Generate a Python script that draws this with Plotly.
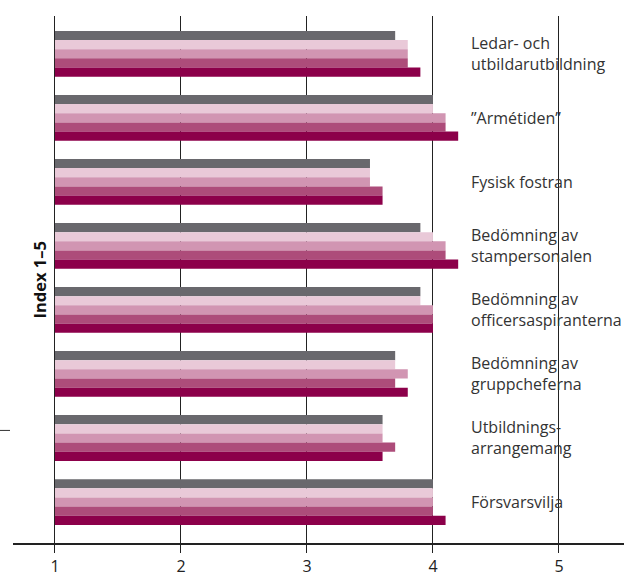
import plotly.graph_objects as go

# Categories, top to bottom
categories = [
    "Ledar- och<br>utbildarutbildning",
    "”Armétiden”",
    "Fysisk fostran",
    "Bedömning av<br>stampersonalen",
    "Bedömning av<br>officersaspiranterna",
    "Bedömning av<br>gruppcheferna",
    "Utbildnings-<br>arrangemang",
    "Försvarsvilja",
]

# Five series per category (index 1–5)
series_1 = [3.7, 4.0, 3.5, 3.9, 3.9, 3.7, 3.6, 4.0]
series_2 = [3.8, 4.0, 3.5, 4.0, 3.9, 3.7, 3.6, 4.0]
series_3 = [3.8, 4.1, 3.5, 4.1, 4.0, 3.8, 3.6, 4.0]
series_4 = [3.8, 4.1, 3.6, 4.1, 4.0, 3.7, 3.7, 4.0]
series_5 = [3.9, 4.2, 3.6, 4.2, 4.0, 3.8, 3.6, 4.1]

series = [series_1, series_2, series_3, series_4, series_5]
colors = ["#69686d", "#e9c9d8", "#d195b2", "#ad4c7a", "#8c004a"]

tick_values = [1, 2, 3, 4, 5]
scale_min = 1

fig = go.Figure()
for vals, col in zip(series, colors):
    fig.add_trace(go.Bar(
        y=list(range(len(categories))),
        x=[v - scale_min for v in vals],
        base=scale_min,
        orientation="h",
        marker=dict(color=col, line=dict(width=0)),
        showlegend=False,
    ))

# Category labels on the right-hand side of the plot
for i, name in enumerate(categories):
    fig.add_annotation(
        x=4.285, y=i, xref="x", yref="y",
        text=name, showarrow=False,
        xanchor="left", yanchor="middle", align="left",
        font=dict(family="Open Sans", size=16, color="#333333"),
    )

# Y-axis title
fig.add_annotation(
    x=0.881, y=0.50, xref="x", yref="paper",
    text="<b>Index 1–5</b>", showarrow=False, textangle=-90,
    xanchor="center", yanchor="middle",
    font=dict(family="Open Sans", size=16.5, color="#111111"),
)

# Small marker dash at the left margin
fig.add_shape(
    type="line", xref="paper", yref="paper",
    x0=-0.0213, x1=-0.0049, y0=0.2136, y1=0.2136,
    line=dict(color="#333333", width=1),
)

fig.update_layout(
    width=624, height=577,
    margin=dict(l=13, r=0, t=16, b=32),
    paper_bgcolor="white", plot_bgcolor="white",
    barmode="group", bargap=0.285, bargroupgap=0,
    xaxis=dict(
        range=[0.667, 5.516],
        tickvals=tick_values,
        showgrid=True, gridcolor="#222222", gridwidth=1,
        zeroline=False,
        showline=True, linecolor="#222222", linewidth=1.5,
        ticks="outside", ticklen=8, tickcolor="#222222", tickwidth=1,
        tickfont=dict(family="Open Sans", size=16, color="#222222"),
    ),
    yaxis=dict(
        range=[7.64, -0.59],
        showticklabels=False, showgrid=False, zeroline=False,
        showline=False, ticks="",
    ),
)

fig.write_html("out.html")
